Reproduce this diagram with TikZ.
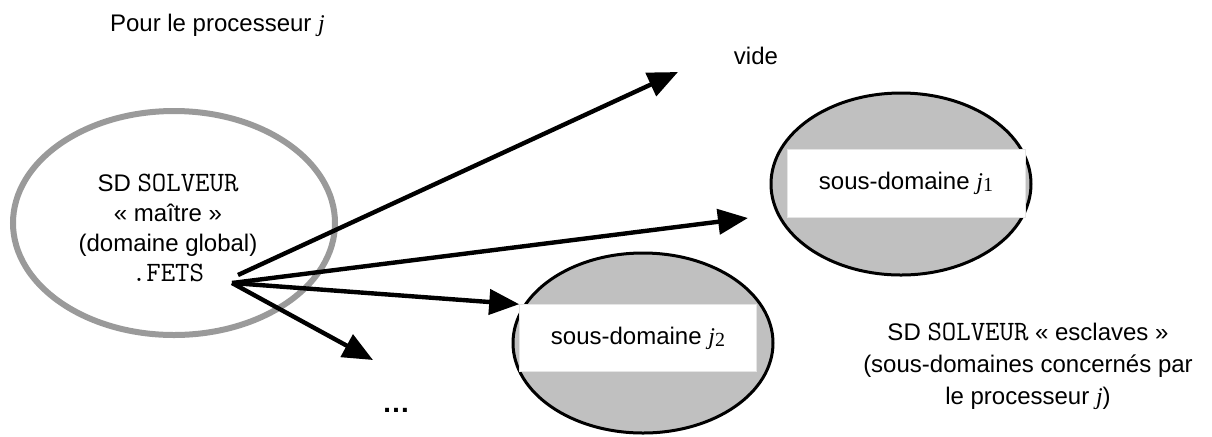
\documentclass[tikz,border=0pt]{standalone}
\usepackage{fontspec}
\setmainfont{Liberation Sans}
\newfontfamily\timesfont{Liberation Serif}
\usepackage{xcolor}
\usetikzlibrary{shapes.geometric,arrows.meta}

\definecolor{ringgray}{HTML}{9A9A9A}
\definecolor{fillgray}{HTML}{C0C0C0}

\newcommand{\jproc}{{\timesfont\itshape j}}
\newcommand{\jsub}[1]{\jproc{\timesfont\fontsize{10}{10}\selectfont\raisebox{-0.25ex}{#1}}}
\newcommand{\code}[1]{{\fontsize{14}{15}\selectfont\ttfamily #1}}

\begin{document}
\begin{tikzpicture}[
        x=0.5pt, y=-0.5pt,
        font=\fontsize{12}{15}\selectfont,
        master/.style={ellipse, draw=ringgray, line width=3pt,
            minimum width=161pt, minimum height=112pt, inner sep=0pt},
        slave/.style={ellipse, draw=black, fill=fillgray, line width=1.5pt,
            minimum width=130pt, minimum height=91pt, inner sep=0pt},
        sdbox/.style={rectangle, fill=white, draw=white!90!black, line width=0.3pt,
            minimum width=119pt, minimum height=34pt, inner sep=0pt},
        fleche/.style={line width=2.2pt, -{Triangle[length=15pt,width=12.5pt]}}]

        \useasboundingbox (0,0) rectangle (1212,436);

        % NODES
        % title and free labels
        \node[anchor=west] (titre) at (103,25) {Pour le processeur \jproc};
        \node[] (vide) at (756,56) {vide};
        \node[font=\fontsize{14}{14}\selectfont] (suite) at (396,410) {\textbf{\ldots}};

        % master
        \node[master] (maitre) at (174,223) {};
        \node[align=center] (maitre_txt) at (168,228)
            {SD \code{SOLVEUR}\\«~maître~»\\(domaine global)\\\code{.FETS}};

        % slaves
        \node[slave] (sd1) at (901,184) {};
        \node[sdbox] (sd1_box) at (906,183) {sous-domaine \jsub{1}};
        \node[slave, minimum height=90pt] (sd2) at (643,343) {};
        \node[sdbox, minimum width=118.5pt, minimum height=33.5pt] (sd2_box) at (638,338) {sous-domaine \jsub{2}};

        \node[align=center, font=\fontsize{12}{16}\selectfont] (esclaves) at (1028,366)
            {SD \code{SOLVEUR} «~esclaves~»\\(sous-domaines concernés par\\le processeur \jproc)};

        % anchors for the arrows
        \coordinate (fets_src) at (232,283);
        \coordinate (fets_src_up) at (238,275);
        \coordinate (to_vide) at (678,72);
        \coordinate (to_sd1) at (748,218);
        \coordinate (to_suite) at (373,360);

        % ARROWS
        \draw[fleche] (fets_src_up)--(to_vide);
        \draw[fleche] (fets_src)--(to_sd1);
        \draw[fleche] (fets_src)--(sd2_box.north west);
        \draw[fleche] (fets_src)--(to_suite);
\end{tikzpicture}
\end{document}
